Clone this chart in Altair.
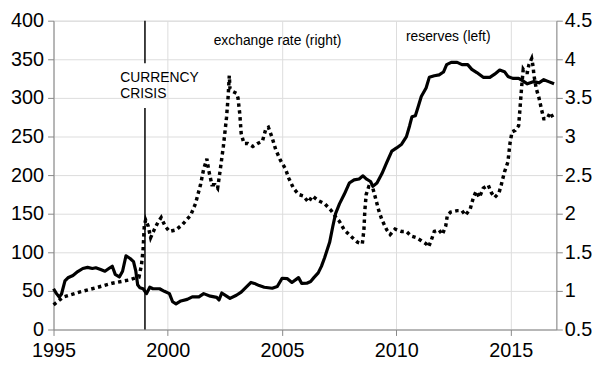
import altair as alt
import pandas as pd

# ---- reserves (left axis) ----
res_year = [1995.00, 1995.13, 1995.25, 1995.35, 1995.50, 1995.63, 1995.85, 1996.06, 1996.28, 1996.49,
            1996.70, 1996.85, 1997.06, 1997.25, 1997.42, 1997.57, 1997.70, 1997.88, 1998.02, 1998.17,
            1998.35, 1998.50, 1998.60, 1998.68, 1998.78, 1998.92, 1999.07, 1999.21, 1999.35, 1999.64,
            1999.85, 2000.07, 2000.21, 2000.36, 2000.57, 2000.85, 2001.07, 2001.36, 2001.57, 2001.86,
            2002.14, 2002.24, 2002.36, 2002.57, 2002.72, 2003.00, 2003.21, 2003.43, 2003.64, 2003.79,
            2004.00, 2004.22, 2004.57, 2004.79, 2005.00, 2005.22, 2005.43, 2005.72, 2005.86, 2006.08,
            2006.25, 2006.39, 2006.58, 2006.72, 2006.86, 2007.08, 2007.22, 2007.34, 2007.51, 2007.72,
            2007.94, 2008.15, 2008.37, 2008.54, 2008.68, 2008.87, 2008.97, 2009.15, 2009.37, 2009.58,
            2009.80, 2010.01, 2010.23, 2010.44, 2010.58, 2010.68, 2010.83, 2010.94, 2011.09, 2011.30,
            2011.44, 2011.66, 2011.87, 2012.06, 2012.20, 2012.40, 2012.66, 2012.87, 2013.12, 2013.30,
            2013.52, 2013.80, 2014.09, 2014.30, 2014.52, 2014.73, 2014.88, 2015.09, 2015.35, 2015.52,
            2015.73, 2016.02, 2016.24, 2016.45, 2016.66, 2016.90]
res_val = [52.8, 46.5, 42.0, 46.0, 63.0, 67.0, 70.0, 75.0, 79.0, 80.5,
           79.0, 80.0, 77.7, 75.5, 79.0, 82.0, 71.4, 68.0, 75.5, 95.5,
           92.0, 88.0, 75.5, 58.0, 54.0, 52.8, 46.5, 54.8, 52.8, 52.8,
           49.5, 46.5, 36.0, 33.2, 37.0, 39.0, 42.3, 42.3, 46.5, 43.2,
           41.6, 38.2, 47.3, 43.2, 40.3, 44.4, 48.5, 54.8, 61.0, 59.7,
           56.9, 54.8, 53.5, 55.6, 66.4, 66.0, 61.0, 67.2, 59.7, 60.0,
           62.2, 67.2, 73.4, 81.8, 93.0, 112.9, 133.7, 150.2, 162.7, 175.1,
           189.7, 193.8, 195.0, 199.1, 195.0, 191.7, 185.4, 189.7, 202.0, 216.6,
           231.1, 235.2, 240.0, 249.8, 264.0, 275.5, 276.8, 287.1, 301.7, 312.9,
           326.6, 328.6, 329.8, 333.5, 343.1, 346.0, 346.0, 343.1, 343.1, 336.9,
           332.8, 326.6, 326.6, 330.7, 336.0, 334.0, 327.8, 325.3, 325.3, 322.3,
           318.2, 321.1, 319.5, 323.6, 321.1, 318.2]

# ---- exchange rate (right axis) ----
fx_year = [1995.00, 1995.42, 1996.13, 1996.85, 1997.57, 1998.28, 1998.74, 1998.85, 1998.92, 1998.97,
           1999.03, 1999.14, 1999.25, 1999.40, 1999.57, 1999.71, 1999.88, 2000.07, 2000.36, 2000.64,
           2001.00, 2001.21, 2001.43, 2001.57, 2001.71, 2001.79, 2001.93, 2002.07, 2002.18, 2002.29,
           2002.43, 2002.57, 2002.64, 2002.69, 2002.72, 2002.86, 2003.00, 2003.07, 2003.15, 2003.21,
           2003.33, 2003.50, 2003.72, 2003.93, 2004.14, 2004.29, 2004.40, 2004.57, 2004.72, 2004.93,
           2005.15, 2005.29, 2005.50, 2005.72, 2005.93, 2006.15, 2006.33, 2006.58, 2006.86, 2007.15,
           2007.34, 2007.51, 2007.72, 2008.00, 2008.30, 2008.51, 2008.58, 2008.62, 2008.68, 2008.79,
           2008.97, 2009.08, 2009.23, 2009.37, 2009.58, 2009.73, 2009.94, 2010.23, 2010.44, 2010.65,
           2010.87, 2011.09, 2011.30, 2011.41, 2011.52, 2011.66, 2011.87, 2012.01, 2012.16, 2012.23,
           2012.37, 2012.66, 2012.87, 2013.02, 2013.23, 2013.37, 2013.49, 2013.63, 2013.80, 2014.02,
           2014.16, 2014.30, 2014.49, 2014.59, 2014.73, 2014.88, 2014.97, 2015.06, 2015.20, 2015.35,
           2015.40, 2015.48, 2015.55, 2015.64, 2015.73, 2015.80, 2015.92, 2015.98, 2016.02, 2016.12,
           2016.24, 2016.35, 2016.45, 2016.59, 2016.73, 2016.88]
fx_val = [0.82, 0.92, 0.985, 1.04, 1.10, 1.14, 1.18, 1.34, 1.545, 1.84,
          1.92, 1.84, 1.69, 1.79, 1.89, 1.95, 1.84, 1.77, 1.79, 1.86,
          1.98, 2.13, 2.375, 2.58, 2.71, 2.56, 2.375, 2.375, 2.33, 2.56,
          2.87, 3.25, 3.52, 3.79, 3.62, 3.58, 3.56, 3.50, 3.29, 3.04,
          2.91, 2.91, 2.87, 2.91, 2.94, 3.10, 3.12, 2.98, 2.83, 2.69,
          2.58, 2.46, 2.33, 2.25, 2.23, 2.15, 2.23, 2.17, 2.13, 2.04,
          1.96, 1.90, 1.79, 1.71, 1.63, 1.61, 1.79, 2.04, 2.25, 2.35,
          2.33, 2.21, 2.04, 1.92, 1.79, 1.73, 1.80, 1.77, 1.77, 1.71,
          1.69, 1.65, 1.61, 1.57, 1.65, 1.77, 1.79, 1.73, 1.84, 1.98,
          2.02, 2.04, 2.04, 1.98, 2.06, 2.21, 2.29, 2.21, 2.33, 2.37,
          2.27, 2.21, 2.27, 2.375, 2.54, 2.67, 2.91, 3.06, 3.08, 3.14,
          3.33, 3.64, 3.87, 3.83, 3.83, 3.93, 4.01, 3.91, 3.79, 3.62,
          3.50, 3.35, 3.23, 3.23, 3.31, 3.23]

x_ticks = [1995, 2000, 2005, 2010, 2015]
left_ticks = [0, 50, 100, 150, 200, 250, 300, 350, 400]
right_ticks = [0.5, 1, 1.5, 2, 2.5, 3, 3.5, 4, 4.5]

# crisis marker: vertical rule drawn in two pieces around the label
crisis_year = 1999
rule_lo = [0, 345]
rule_hi = [287, 400]

left_text = ["CURRENCY", "CRISIS"]
left_text_x = [1997.92, 1997.92]
left_text_y = [320, 300.5]
center_text = ["exchange rate (right)", "reserves (left)"]
center_text_x = [2004.8, 2012.27]
center_text_y = [368, 373.5]

FONT = "Liberation Sans"

res_df = pd.DataFrame({"year": res_year, "v": res_val})
fx_df = pd.DataFrame({"year": fx_year, "r": fx_val})
rule_df = pd.DataFrame({"year": [crisis_year] * len(rule_lo), "v": rule_lo, "v2": rule_hi})
lt_df = pd.DataFrame({"year": left_text_x, "v": left_text_y, "t": left_text})
ct_df = pd.DataFrame({"year": center_text_x, "v": center_text_y, "t": center_text})

xscale = alt.Scale(domain=[1995, 2017], nice=False, zero=False)
xaxis = alt.Axis(values=x_ticks, format="d", title=None, tickSize=6, labelPadding=5,
                 labelFlush=False, labelFontSize=20)
lscale = alt.Scale(domain=[0, 400], nice=False)
laxis = alt.Axis(values=left_ticks, title=None, orient="left", tickSize=6, labelPadding=4,
                 labelFontSize=20, labelFlush=False)
rscale = alt.Scale(domain=[0.5, 4.5], nice=False, zero=False)
raxis = alt.Axis(values=right_ticks, title=None, orient="right", tickSize=6, labelPadding=2,
                 labelFontSize=20, format="~g", labelFlush=False)

X = alt.X("year:Q", scale=xscale, axis=xaxis)

reserves = alt.Chart(res_df).mark_line(color="black", strokeWidth=3.2, strokeJoin="round").encode(
    x=X, y=alt.Y("v:Q", scale=lscale, axis=laxis))

rule = alt.Chart(rule_df).mark_rule(color="black", strokeWidth=1.5).encode(
    x=X, y=alt.Y("v:Q", scale=lscale, axis=laxis), y2="v2:Q")

ltext = alt.Chart(lt_df).mark_text(align="left", baseline="alphabetic", font=FONT, fontSize=14,
                                   color="black").encode(
    x=X, y=alt.Y("v:Q", scale=lscale, axis=laxis), text="t:N")

ctext = alt.Chart(ct_df).mark_text(align="center", baseline="alphabetic", font=FONT, fontSize=14,
                                   color="black").encode(
    x=X, y=alt.Y("v:Q", scale=lscale, axis=laxis), text="t:N")

left_layer = alt.layer(reserves, rule, ltext, ctext)

exch = alt.Chart(fx_df).mark_line(color="black", strokeWidth=3.5, strokeDash=[3.5, 3.5],
                                   strokeCap="butt").encode(
    x=X, y=alt.Y("r:Q", scale=rscale, axis=raxis))

chart = alt.layer(left_layer, exch).resolve_scale(y="independent").properties(
    width=508, height=312,
    autosize=alt.AutoSizeParams(type="none"),
    padding={"left": 46, "top": 11, "right": 36, "bottom": 30},
).configure_view(stroke=None).configure_axis(
    grid=False, domainColor="black", tickColor="black", labelColor="black",
    labelFont=FONT, domainWidth=1.2, tickWidth=1.2,
).configure(background="white")

chart.save("out.html", embed_options={"renderer": "svg", "actions": False})
